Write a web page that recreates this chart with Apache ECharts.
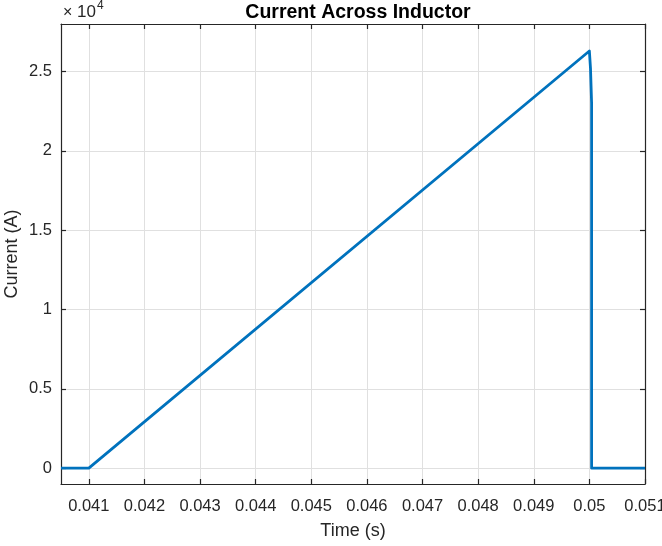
<!DOCTYPE html>
<html>
<head>
<meta charset="utf-8">
<script src="https://cdn.jsdelivr.net/npm/echarts@6/dist/echarts.min.js"></script>
<style>
  html, body { margin: 0; padding: 0; background: #ffffff; }
  #chart { width: 662px; height: 546px; }
</style>
</head>
<body>
<div id="chart"></div>
<script>
// Inductor current: linear ramp, then a fast collapse to zero
const timeS = [0.0405, 0.041, 0.05, 0.05002, 0.05004, 0.05004, 0.051];
const currentA = [0, 0, 26300, 25200, 23000, 0, 0];

// Tick positions on each axis
const xTicks = [0.041, 0.042, 0.043, 0.044, 0.045, 0.046, 0.047, 0.048, 0.049, 0.05, 0.051];
const yTicks = [0, 5000, 10000, 15000, 20000, 25000];

const xMin = 0.0405, xMax = 0.051;
const yMin = -1000, yMax = 28000;

const ink = '#262626';
const gridGray = '#e0e0e0';
const font = 'Liberation Sans, Arial, Helvetica, sans-serif';

const points = timeS.map((t, i) => [t, currentA[i]]);

const chart = echarts.init(document.getElementById('chart'), null, { renderer: 'canvas' });

function axisBase(ticks, withLabels, labelOpts) {
  return {
    type: 'value',
    axisLine: { show: true, onZero: false, lineStyle: { color: ink, width: 1.2 } },
    axisTick: { show: true, inside: true, length: 5, customValues: ticks, lineStyle: { color: ink, width: 1.2 } },
    axisLabel: withLabels ? Object.assign({ customValues: ticks, fontFamily: font, fontSize: 16.5, color: ink }, labelOpts)
                          : { show: false },
    splitLine: { show: withLabels, lineStyle: { color: gridGray, width: 1 } }
  };
}

chart.setOption({
  animation: false,
  backgroundColor: '#ffffff',
  title: {
    text: 'Current Across Inductor',
    left: 353, top: -2, textAlign: 'center',
    textStyle: { fontFamily: font, fontSize: 19.5, fontWeight: 'bold', color: '#000000' }
  },
  grid: { left: 61, top: 24, width: 584, height: 460, containLabel: false, outerBoundsMode: 'none' },
  xAxis: [
    Object.assign(axisBase(xTicks, true, { margin: 14, formatter: v => String(parseFloat(Number(v).toFixed(4))) }), {
      position: 'bottom', min: xMin, max: xMax,
      name: 'Time (s)', nameLocation: 'middle', nameGap: 38, nameMoveOverlap: false,
      nameTextStyle: { fontFamily: font, fontSize: 18, color: ink }
    }),
    Object.assign(axisBase(xTicks, false), { position: 'top', min: xMin, max: xMax })
  ],
  yAxis: [
    Object.assign(axisBase(yTicks, true, { margin: 9, formatter: v => String(parseFloat((Number(v) / 10000).toFixed(2))) }), {
      position: 'left', min: yMin, max: yMax,
      name: 'Current (A)', nameLocation: 'middle', nameGap: 40, nameMoveOverlap: false,
      nameTextStyle: { fontFamily: font, fontSize: 18, color: ink }
    }),
    Object.assign(axisBase(yTicks, false), { position: 'right', min: yMin, max: yMax })
  ],
  graphic: [
    { type: 'text', left: 63, top: 5, style: { text: '×', fontFamily: font, fontSize: 16, fill: ink } },
    { type: 'text', left: 77, top: 4, style: { text: '10', fontFamily: font, fontSize: 17, fill: ink } },
    { type: 'text', left: 97, top: 0, style: { text: '4', fontFamily: font, fontSize: 12, fill: ink } }
  ],
  series: [{
    type: 'line',
    xAxisIndex: 0, yAxisIndex: 0,
    data: points,
    showSymbol: false,
    symbol: 'none',
    lineStyle: { color: '#0072BD', width: 2.8, join: 'round' },
    z: 5
  }]
});
</script>
</body>
</html>
